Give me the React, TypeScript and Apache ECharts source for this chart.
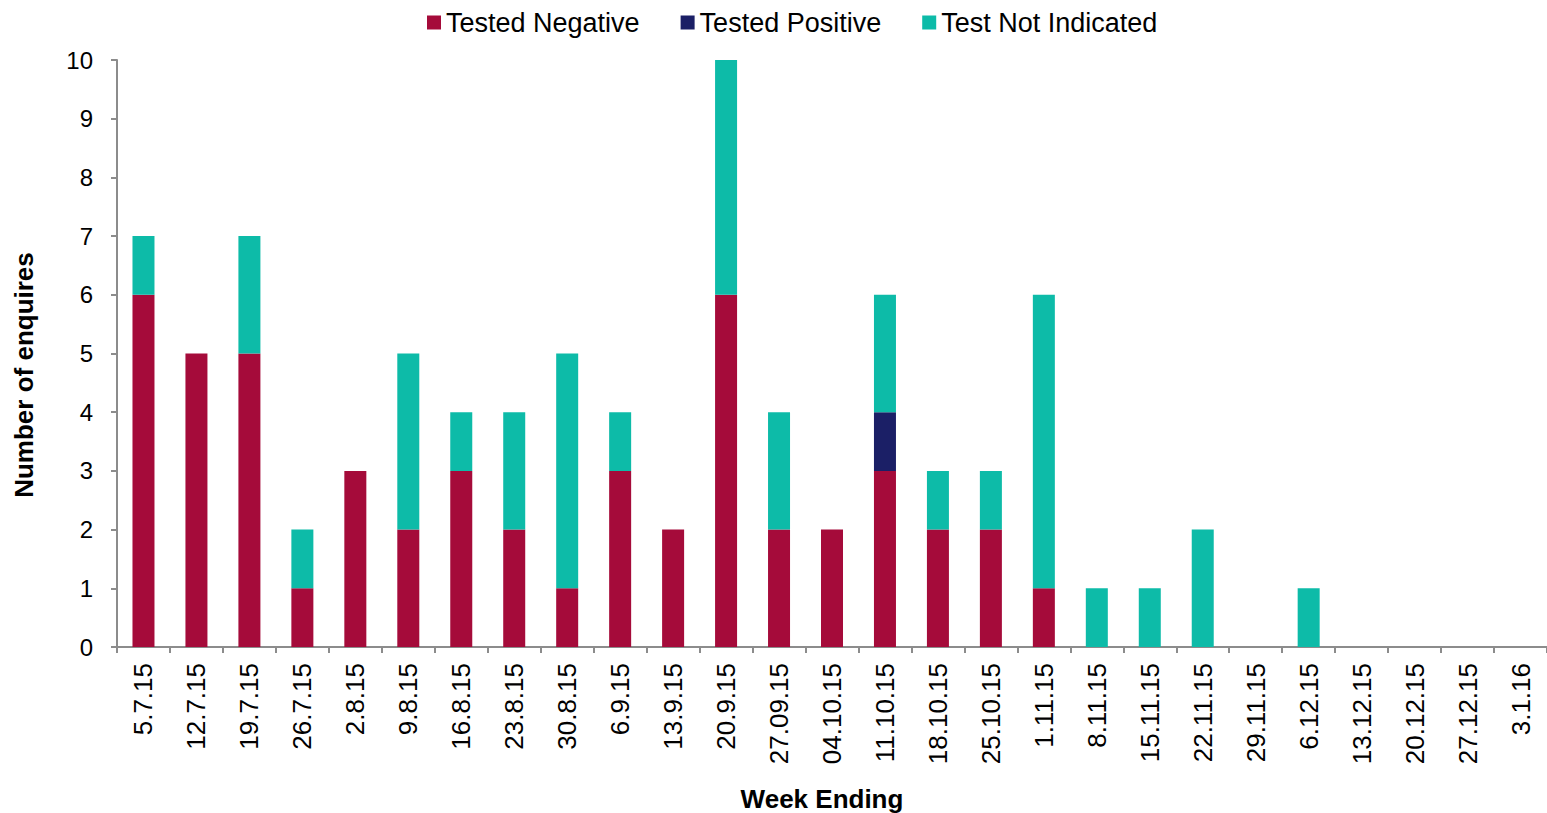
import React, { useEffect, useRef } from "react";
import * as echarts from "echarts";

const categories = [
  "5.7.15", "12.7.15", "19.7.15", "26.7.15", "2.8.15", "9.8.15", "16.8.15", "23.8.15", "30.8.15",
  "6.9.15", "13.9.15", "20.9.15", "27.09.15", "04.10.15", "11.10.15", "18.10.15", "25.10.15",
  "1.11.15", "8.11.15", "15.11.15", "22.11.15", "29.11.15", "6.12.15", "13.12.15", "20.12.15",
  "27.12.15", "3.1.16",
];
const testedNegative = [6, 5, 5, 1, 3, 2, 3, 2, 1, 3, 2, 6, 2, 2, 3, 2, 2, 1, 0, 0, 0, 0, 0, 0, 0, 0, 0];
const testedPositive = [0, 0, 0, 0, 0, 0, 0, 0, 0, 0, 0, 0, 0, 0, 1, 0, 0, 0, 0, 0, 0, 0, 0, 0, 0, 0, 0];
const testNotIndicated = [1, 0, 2, 1, 0, 3, 1, 2, 4, 1, 0, 4, 2, 0, 2, 1, 1, 5, 1, 1, 2, 0, 1, 0, 0, 0, 0];

const FONT = "Liberation Sans, Arial, sans-serif";

export default function App() {
  const ref = useRef<HTMLDivElement>(null);
  useEffect(() => {
    if (!ref.current) return;
    const chart = echarts.init(ref.current, undefined, { renderer: "svg" });
    const mk = (name: string, data: number[], color: string) => ({
      name,
      type: "bar",
      stack: "total",
      data: data.map((v) => (v === 0 ? null : v)),
      barWidth: 22,
      itemStyle: { color },
    });
    chart.setOption({
      animation: false,
      textStyle: { fontFamily: FONT },
      legend: {
        top: 4,
        left: 422,
        itemWidth: 14,
        itemHeight: 14,
        itemGap: 41,
        icon: "rect",
        textStyle: { fontSize: 27, color: "#000", fontFamily: FONT },
        data: ["Tested Negative", "Tested Positive", "Test Not Indicated"],
      },
      grid: { left: 117, right: 0, top: 60, bottom: 166, containLabel: false, outerBoundsMode: "none" },
      xAxis: {
        type: "category",
        data: categories,
        axisLine: { lineStyle: { color: "#8c8c8c", width: 2 } },
        axisTick: { show: true, length: 6, lineStyle: { color: "#8c8c8c", width: 2 }, alignWithLabel: false },
        axisLabel: { rotate: 90, fontSize: 26, color: "#000", margin: 16, interval: 0, fontFamily: FONT },
      },
      yAxis: {
        type: "value",
        min: 0,
        max: 10,
        interval: 1,
        axisLine: { show: true, lineStyle: { color: "#8c8c8c", width: 2 } },
        axisTick: { show: true, length: 6, lineStyle: { color: "#8c8c8c", width: 2 } },
        splitLine: { show: false },
        axisLabel: { fontSize: 24, color: "#000", margin: 24, fontFamily: FONT },
      },
      graphic: [
        {
          type: "text",
          x: 24,
          y: 375,
          rotation: Math.PI / 2,
          style: {
            text: "Number of enquires",
            font: `bold 26px ${FONT}`,
            fill: "#000",
            textAlign: "center",
            textVerticalAlign: "middle",
          },
        },
        {
          type: "text",
          x: 822,
          y: 799,
          style: {
            text: "Week Ending",
            font: `bold 26px ${FONT}`,
            fill: "#000",
            textAlign: "center",
            textVerticalAlign: "middle",
          },
        },
      ],
      series: [
        mk("Tested Negative", testedNegative, "#A50B3A"),
        mk("Tested Positive", testedPositive, "#1B1F66"),
        mk("Test Not Indicated", testNotIndicated, "#0DBBA8"),
      ],
    });
    return () => chart.dispose();
  }, []);
  return (
    <div
      ref={ref}
      style={{ position: "absolute", left: 0, top: 0, width: 1547, height: 813, background: "#fff" }}
    />
  );
}
